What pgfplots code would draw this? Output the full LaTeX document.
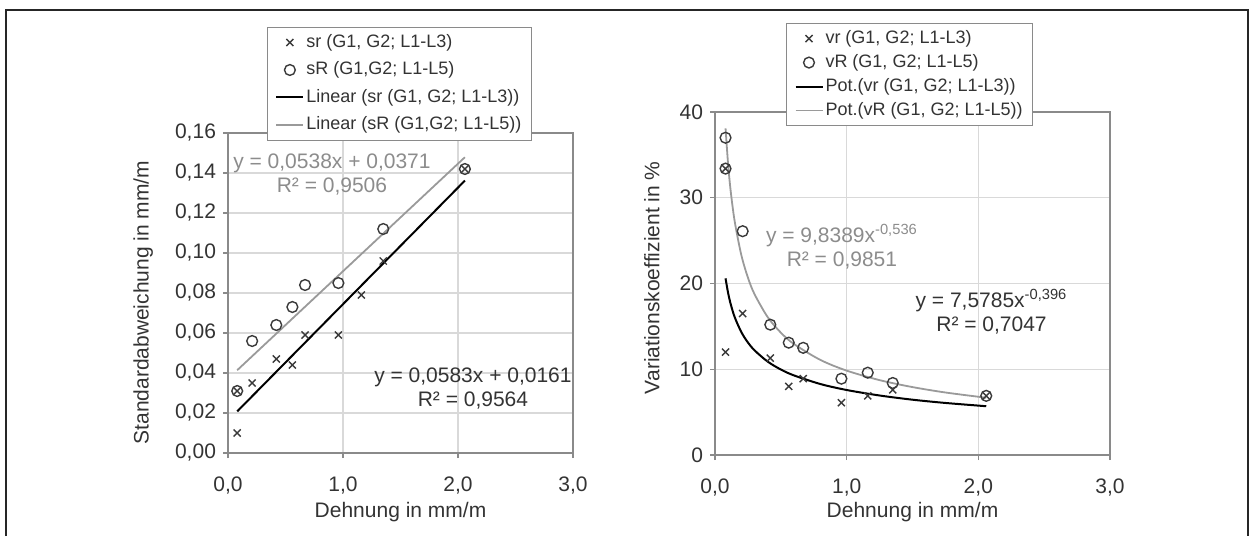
\documentclass[border=0pt]{standalone}
\usepackage{pgfplots}
\pgfplotsset{compat=1.18}
\usepackage{fontspec}
\setmainfont{Liberation Sans}
\definecolor{txt}{HTML}{333333}
\definecolor{gtxt}{HTML}{8C8C8C}
\definecolor{gline}{HTML}{9A9A9A}
\definecolor{gridc}{HTML}{D9D9D9}
\definecolor{axc}{HTML}{8A8A8A}
\definecolor{mk}{HTML}{3A3A3A}
\pgfplotsset{
  common/.style={
    scale only axis,
    anchor=south west,
    xmin=0, xmax=3,
    xtick={0,1,2,3},
    grid=major,
    major grid style={gridc, line width=0.6pt},
    axis line style={axc, line width=0.8pt},
    tick style={axc, line width=0.6pt},
    tick align=outside,
    major tick length=2.5pt,
    tick pos=left,
    ticklabel style={font=\fontsize{10.5}{12}\selectfont, text=txt},
    /pgf/number format/assume math mode=true,
    legend cell align=left,
    legend image code/.code={\draw[mark repeat=2,mark phase=2,##1] plot coordinates {(0pt,0pt) (6.75pt,0pt) (13.5pt,0pt)};},
    xticklabel style={anchor=north, yshift=-6pt, /pgf/number format/.cd, fixed, fixed zerofill, precision=1, use comma},
    yticklabel style={anchor=east},
  },
  crossmk/.style={only marks, mark=x, mark size=2.5pt, draw=mk, line width=0.7pt},
  circmk/.style={only marks, mark=o, mark size=2.7pt, draw=mk, line width=0.7pt},
}
\begin{document}
\begin{tikzpicture}
\useasboundingbox (0,0) rectangle (626.5pt,-268pt);
\draw[line width=1pt, black!85] (3pt,-268pt) -- (3pt,-5pt) -- (624pt,-5pt) -- (624pt,-268pt);

% ---------- left chart ----------
\begin{axis}[common,
  at={(114pt,-226.5pt)},
  width=172.5pt, height=160pt,
  ymin=0, ymax=0.16,
  ytick={0,0.02,0.04,0.06,0.08,0.10,0.12,0.14,0.16},
  yticklabel style={/pgf/number format/.cd, fixed, fixed zerofill, precision=2, use comma},
  xlabel={Dehnung in mm/m},
  ylabel={Standardabweichung in mm/m},
  every axis x label/.style={at={(axis description cs:0.5,-0.184)}, anchor=center, font=\fontsize{10.5}{12}\selectfont, text=txt},
  every axis y label/.style={at={(axis description cs:-0.246,0.47)}, anchor=center, rotate=90, font=\fontsize{10.5}{12}\selectfont, text=txt},
  legend style={at={(0.113,1.331)}, anchor=north west, draw=axc, fill=white,
    font=\fontsize{9}{10}\selectfont, text=txt,
    nodes={inner sep=1pt, text height=7pt, text depth=2pt},
    row sep=2.75pt, inner xsep=4pt, inner ysep=2pt},
]
\addplot[crossmk] table {
x y
0.08 0.010
0.08 0.031
0.21 0.035
0.42 0.047
0.56 0.044
0.67 0.059
0.96 0.059
1.16 0.079
1.35 0.096
2.06 0.142
};
\addplot[circmk] table {
x y
0.08 0.031
0.21 0.056
0.42 0.064
0.56 0.073
0.67 0.084
0.96 0.085
1.35 0.112
2.06 0.142
};
\addplot[black, line width=1pt, no marks] coordinates {(0.08,0.0208) (2.06,0.1362)};
\addplot[gline, line width=0.9pt, no marks] coordinates {(0.08,0.0414) (2.06,0.1479)};
\legend{{sr (G1, G2; L1-L3)}, {sR (G1,G2; L1-L5)}, {Linear (sr (G1, G2; L1-L3))}, {Linear (sR (G1,G2; L1-L5))}}
\node[align=center, text=gtxt, font=\fontsize{10.5}{12}\selectfont, inner sep=0pt] at (axis cs:0.904,0.139) {y = 0,0538x + 0,0371\\R² = 0,9506};
\node[align=center, text=txt, font=\fontsize{10.5}{12}\selectfont, inner sep=0pt] at (axis cs:2.13,0.032) {y = 0,0583x + 0,0161\\R² = 0,9564};
\end{axis}

% ---------- right chart ----------
\begin{axis}[common,
  at={(357.5pt,-227.5pt)},
  width=197.5pt, height=171.5pt,
  ymin=0, ymax=40,
  ytick={0,10,20,30,40},
  xlabel={Dehnung in mm/m},
  ylabel={Variationskoeffizient in \%},
  every axis x label/.style={at={(axis description cs:0.5,-0.166)}, anchor=center, font=\fontsize{10.5}{12}\selectfont, text=txt},
  every axis y label/.style={at={(axis description cs:-0.16,0.517)}, anchor=center, rotate=90, font=\fontsize{10.5}{12}\selectfont, text=txt},
  legend style={at={(0.18,1.259)}, anchor=north west, draw=axc, fill=white,
    font=\fontsize{9}{10}\selectfont, text=txt,
    nodes={inner sep=1pt, text height=7pt, text depth=2pt},
    row sep=1pt, inner xsep=4pt, inner ysep=2pt},
]
\addplot[crossmk] table {
x y
0.08 12.0
0.08 33.4
0.21 16.5
0.42 11.3
0.56 8.0
0.67 8.9
0.96 6.1
1.16 6.9
1.35 7.6
2.06 6.9
};
\addplot[circmk] table {
x y
0.08 37.0
0.08 33.4
0.21 26.1
0.42 15.2
0.56 13.1
0.67 12.5
0.96 8.9
1.16 9.6
1.35 8.4
2.06 6.9
};
\addplot[black, line width=1pt, no marks, smooth] coordinates {
(0.08,20.60) (0.10,18.86) (0.12,17.55) (0.15,16.06) (0.20,14.33) (0.25,13.12)
(0.30,12.21) (0.40,10.89) (0.50,9.97) (0.60,9.28) (0.80,8.28) (1.00,7.58)
(1.25,6.94) (1.50,6.45) (1.75,6.07) (2.06,5.69)};
\addplot[gline, line width=0.9pt, no marks, smooth] coordinates {
(0.08,38.10) (0.10,33.80) (0.12,30.66) (0.15,27.20) (0.20,23.31) (0.25,20.69)
(0.30,18.76) (0.40,16.08) (0.50,14.27) (0.60,12.94) (0.80,11.09) (1.00,9.84)
(1.25,8.73) (1.50,7.92) (1.75,7.29) (2.06,6.68)};
\legend{{vr (G1, G2; L1-L3)}, {vR (G1, G2; L1-L5)}, {Pot.(vr (G1, G2; L1-L3))}, {Pot.(vR (G1, G2; L1-L5))}}
\node[align=center, text=gtxt, font=\fontsize{10.5}{12}\selectfont, inner sep=0pt] at (axis cs:0.964,24.3) {y = 9,8389x\textsuperscript{-0,536}\\R² = 0,9851};
\node[align=center, text=txt, font=\fontsize{10.5}{12}\selectfont, inner sep=0pt] at (axis cs:2.10,16.7) {y = 7,5785x\textsuperscript{-0,396}\\R² = 0,7047};
\end{axis}
\end{tikzpicture}
\end{document}
